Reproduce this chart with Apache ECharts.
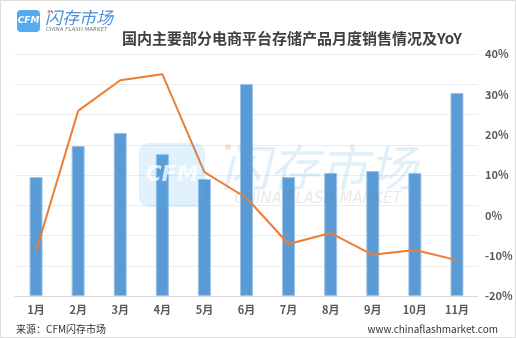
<!DOCTYPE html>
<html>
<head>
<meta charset="utf-8">
<script src="https://cdn.jsdelivr.net/npm/echarts@6/dist/echarts.min.js"></script>
<style>
  html, body { margin: 0; padding: 0; background: #fff; }
  #chart { width: 516px; height: 338px; }
</style>
</head>
<body>
<div id="chart"></div>
<script>
// Monthly sales of storage products on major e-commerce platforms, with YoY change
var months = ['1月', '2月', '3月', '4月', '5月', '6月', '7月', '8月', '9月', '10月', '11月'];
var salesIndex = [39.3, 49.6, 53.9, 46.9, 38.7, 70.1, 39.3, 40.7, 41.3, 40.7, 67.1];
var yoyPercent = [-8.9, 25.9, 33.5, 35.0, 10.7, 4.3, -7.1, -4.4, -9.8, -8.6, -11.1];
var yoyTicks = { min: -20, max: 40, interval: 10 };

var FONT = '"Noto Sans CJK SC", "Noto Sans", sans-serif';
var chart = echarts.init(document.getElementById('chart'), null, { renderer: 'canvas' });

chart.setOption({
  animation: false,
  backgroundColor: '#ffffff',
  textStyle: { fontFamily: FONT },
  grid: { left: 15, right: 38, top: 54, bottom: 42, containLabel: false },
  xAxis: {
    type: 'category',
    data: months,
    axisLine: { show: true, lineStyle: { color: '#d9d9d9', width: 1 } },
    axisTick: { show: false },
    axisLabel: { color: '#595959', fontSize: 11, fontWeight: 'bold', margin: 8, fontFamily: FONT }
  },
  yAxis: [
    {
      type: 'value', min: 0, max: 80, interval: 10,
      axisLine: { show: false }, axisTick: { show: false },
      axisLabel: { show: false },
      splitLine: { show: true, lineStyle: { color: '#ececec', width: 1 } }
    },
    {
      type: 'value', position: 'right',
      min: yoyTicks.min, max: yoyTicks.max, interval: yoyTicks.interval,
      axisLine: { show: false }, axisTick: { show: false },
      splitLine: { show: false },
      axisLabel: { formatter: '{value}%', color: '#595959', fontSize: 11, fontWeight: 'bold', margin: 7, fontFamily: FONT }
    }
  ],
  series: [
    {
      name: '销售量',
      type: 'bar',
      yAxisIndex: 0,
      data: salesIndex,
      barWidth: 13,
      itemStyle: { color: '#5b9bd5', borderColor: '#9cc3e8', borderWidth: 1 },
      z: 2
    },
    {
      name: 'YoY',
      type: 'line',
      yAxisIndex: 1,
      data: yoyPercent,
      showSymbol: false,
      symbol: 'none',
      lineStyle: { color: '#ed7d31', width: 2 },
      z: 3
    }
  ],
  graphic: [
    // outer frame
    { type: 'rect', shape: { x: 0.5, y: 0.5, width: 515, height: 337 }, style: { fill: 'none', stroke: '#dcdcdc', lineWidth: 1 }, z: 100 },
    // logo, top-left
    { type: 'rect', shape: { x: 17, y: 10, width: 23, height: 22, r: 4 }, style: { fill: '#55aaf0' }, z: 100 },
    { type: 'text', x: 28.5, y: 21, style: { text: 'CFM', fill: '#ffffff', font: 'italic bold 9px "DejaVu Sans"', align: 'center', verticalAlign: 'middle' }, z: 101 },
    { type: 'text', x: 45, y: 18, style: { text: '闪存市场', fill: '#4a8fd8', font: 'italic 17px ' + FONT, verticalAlign: 'middle' }, z: 101 },
    { type: 'circle', shape: { cx: 49, cy: 11.5, r: 1.5 }, style: { fill: '#f08a5d' }, z: 102 },
    { type: 'text', x: 46, y: 30, style: { text: 'CHINA FLASH MARKET', fill: '#777777', font: 'italic 5.5px "DejaVu Sans"', verticalAlign: 'middle' }, z: 101 },
    // title
    { type: 'text', x: 292, y: 38, style: { text: '国内主要部分电商平台存储产品月度销售情况及YoY', fill: '#404040', font: 'bold 15px ' + FONT, align: 'center', verticalAlign: 'middle' }, z: 100 },
    // watermark in the plot
    { type: 'rect', shape: { x: 139, y: 143, width: 66, height: 64, r: 10 }, style: { fill: 'rgba(80,175,240,0.17)' }, z: 50 },
    { type: 'text', x: 172, y: 175, style: { text: 'CFM', fill: 'rgba(255,255,255,0.75)', font: 'italic bold 22px "DejaVu Sans"', align: 'center', verticalAlign: 'middle' }, z: 51 },
    { type: 'text', x: 319, y: 167, style: { text: '闪存市场', fill: 'rgba(80,170,235,0.18)', font: 'italic 49px ' + FONT, align: 'center', verticalAlign: 'middle' }, z: 50 },
    { type: 'circle', shape: { cx: 228, cy: 147, r: 3 }, style: { fill: 'rgba(245,140,90,0.25)' }, z: 50 },
    { type: 'text', x: 318, y: 199, style: { text: 'CHINA FLASH MARKET', fill: 'rgba(120,120,120,0.16)', font: 'italic 15px "DejaVu Sans"', align: 'center', verticalAlign: 'middle' }, z: 50 },
    // footer
    { type: 'text', x: 16, y: 329, style: { text: '来源：CFM闪存市场', fill: '#333333', font: '10px ' + FONT, verticalAlign: 'middle' }, z: 100 },
    { type: 'text', x: 498, y: 329, style: { text: 'www.chinaflashmarket.com', fill: '#333333', font: '10px ' + FONT, align: 'right', verticalAlign: 'middle' }, z: 100 }
  ]
});
</script>
</body>
</html>
